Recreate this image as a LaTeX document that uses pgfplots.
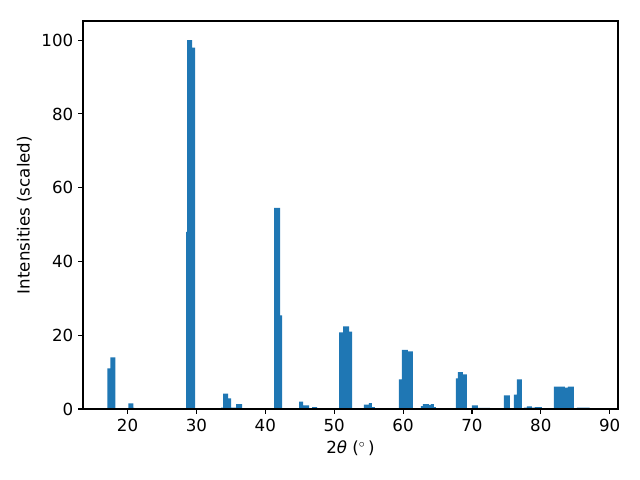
\documentclass[border=0pt]{standalone}
\usepackage{fontspec}
\setmainfont{DejaVu Sans}
\usepackage{pgfplots}
\pgfplotsset{compat=1.18}
\definecolor{mplblue}{RGB}{31,119,180}

\begin{document}
\begin{tikzpicture}
    % page frame, 640x480 px at 0.72pt per px
    \path[use as bounding box] (-59.76pt,-51.12pt) rectangle (401.04pt,294.48pt);
    \begin{axis}[
            at={(0,0)}, anchor=south west,
            scale only axis,
            width=385.2pt, height=279.36pt,
            xmin=13.53, xmax=91.2,
            ymin=0, ymax=105.2,
            xtick={20,30,...,90},
            ytick={0,20,...,100},
            tick align=outside,
            xtick pos=bottom, ytick pos=left,
            major tick length=3.5pt,
            tick style={black, line width=0.8pt},
            axis line style={line width=0.8pt},
            axis on top,
            tick label style={font=\fontsize{12}{14}\selectfont},
            label style={font=\fontsize{12}{14}\selectfont},
            /pgf/number format/assume math mode=true,
            xlabel={2\textit{θ} ($^\circ$\,)},
            ylabel={Intensities (scaled)}
        ]
        % left edge of each bar and its height; zero rows are gaps
        \addplot[ybar interval, fill=mplblue, draw=none] table {
            x      y
            17.056 11
            17.491 14
            18.216 0
            20.102 1.5
            20.827 0.3
            20.972 0
            28.512 48
            28.657 100
            29.382 98
            29.817 0
            33.588 0.4
            33.878 4.2
            34.603 2.9
            35.038 0.4
            35.763 1.3
            36.633 0
            41.273 54.5
            42.143 25.4
            42.433 0
            44.899 2.0
            45.479 1.0
            46.349 0
            46.784 0.5
            47.509 0
            50.699 20.8
            51.279 22.4
            52.149 21.0
            52.584 0
            54.324 1.2
            55.049 1.6
            55.484 0.5
            55.919 0
            59.400 8.0
            59.835 16.0
            60.705 15.6
            61.430 0
            62.590 0.8
            62.880 1.3
            63.750 1.1
            64.040 1.3
            64.475 0.5
            64.765 0
            67.666 8.3
            67.956 10.0
            68.681 9.4
            69.261 0
            69.986 1.0
            70.856 0.3
            72.596 0
            74.626 3.7
            75.496 0
            76.076 3.9
            76.511 8.0
            77.236 0
            77.526 0.4
            77.961 0.7
            78.686 0.4
            79.121 0.5
            80.136 0
            81.877 6.1
            83.472 5.8
            83.907 6.1
            84.777 0.2
            85.212 0.4
            87.097 0.2
            87.677 0
        };
    \end{axis}
\end{tikzpicture}
\end{document}
